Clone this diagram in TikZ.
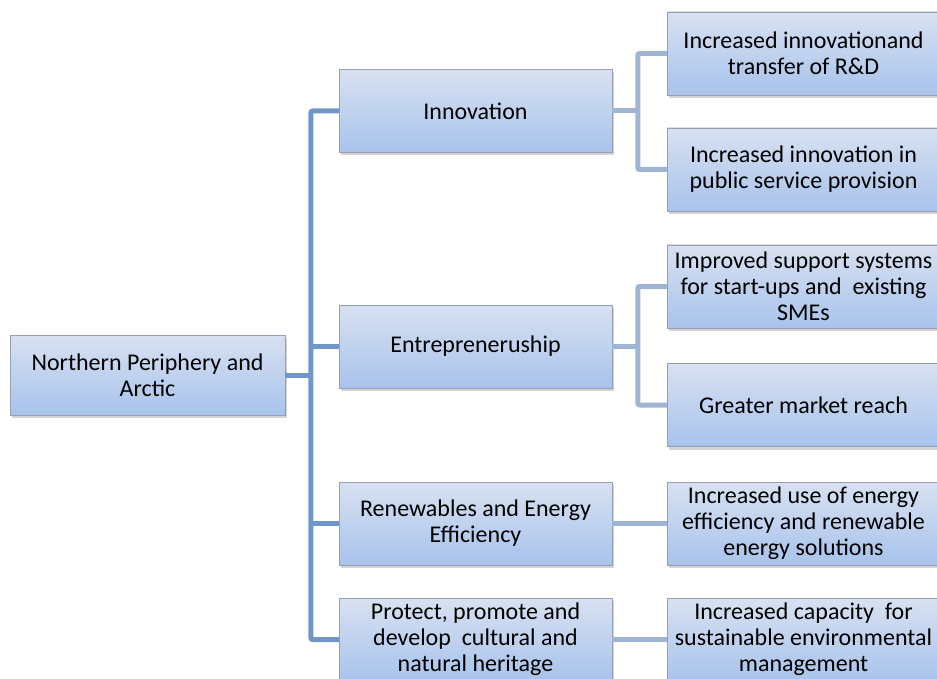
\documentclass[tikz,border=0pt]{standalone}
\usepackage{fontspec}
\setmainfont{Carlito}
\usetikzlibrary{shadows}

\definecolor{boxtop}{RGB}{216,225,241}
\definecolor{boxbot}{RGB}{168,195,236}
\definecolor{boxline}{RGB}{150,160,176}
\definecolor{trunkblue}{RGB}{112,150,200}
\definecolor{branchblue}{RGB}{160,180,212}

\begin{document}
\begin{tikzpicture}[x=1pt,y=-1pt,font=\fontsize{24}{26}\selectfont]
\tikzstyle{block} = [rectangle, draw=boxline, thin, top color=boxtop, bottom color=boxbot,
align=center, minimum width=273pt, minimum height=83pt, inner sep=2pt,
drop shadow={opacity=0.35, shadow xshift=2pt, shadow yshift=-3pt}]
\tikzstyle{trunk} = [draw=trunkblue, line width=5pt, rounded corners=2pt]
\tikzstyle{branch} = [draw=branchblue, line width=5pt, rounded corners=2pt]
\useasboundingbox (0,0) rectangle (937,679);
% root
\node [block, minimum width=275pt, minimum height=80pt] (root) at (147.5,375) {Northern Periphery and\\Arctic};
% level 1
\node [block] (innov) at (475.5,111) {Innovation};
\node [block] (entre) at (475.5,346.5) {Entrepreneruship};
\node [block] (renew) at (475.5,523.5) {Renewables and Energy\\Efficiency};
\node [block] (prot) at (475.5,639.5) {Protect, promote and\\develop\ \ cultural and\\natural heritage};
% level 2
\node [block] (rnd) at (803.5,53.5) {Increased innovationand\\transfer of R\&D};
\node [block] (pub) at (803.5,169.5) {Increased innovation in\\public service provision};
\node [block] (sme) at (803.5,286.5) {Improved support systems\\for start-ups and\ \ existing\\SMEs};
\node [block] (mkt) at (803.5,405) {Greater market reach};
\node [block] (energy) at (803.5,523.5) {Increased use of energy\\efficiency and renewable\\energy solutions};
\node [block] (env) at (803.5,639.5) {Increased capacity\ \ for\\sustainable environmental\\management};
% connectors
\path [trunk] (root.east) -- ++(26,0);
\path [trunk] (innov.west) -- ++(-28,0) |- (prot.west);
\path [trunk] (entre.west) -- ++(-28,0);
\path [trunk] (renew.west) -- ++(-28,0);
\path [branch] (innov.east) -- ++(26,0);
\path [branch] (rnd.west) -- ++(-29,0) |- (pub.west);
\path [branch] (entre.east) -- ++(26,0);
\path [branch] (sme.west) -- ++(-29,0) |- (mkt.west);
\path [branch] (renew.east) -- (energy.west);
\path [branch] (prot.east) -- (env.west);
\end{tikzpicture}
\end{document}
